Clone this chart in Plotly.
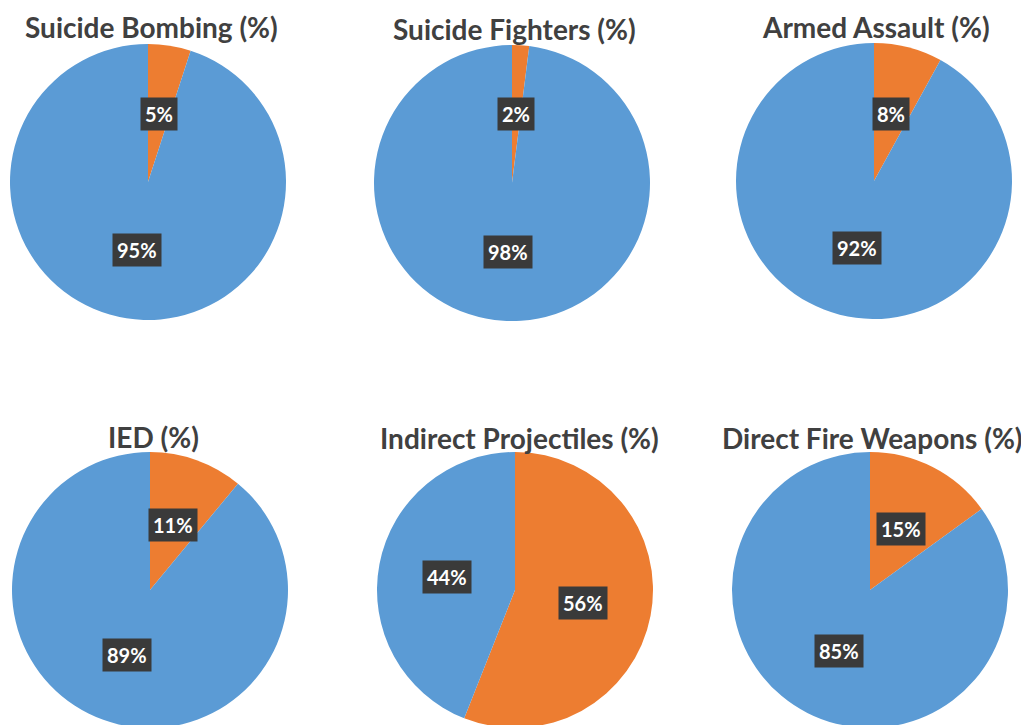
import math
import plotly.graph_objects as go

# ---- data ----
titles = ["Suicide Bombing (%)", "Suicide Fighters (%)", "Armed Assault (%)",
          "IED (%)", "Indirect Projectiles (%)", "Direct Fire Weapons (%)"]
orange_vals = [5, 2, 8, 11, 56, 15]
blue_vals = [95, 98, 92, 89, 44, 85]
slice_names = ["Share", "Remainder"]

# ---- layout / style ----
W, H = 1029, 725
OFF = 8  # page body margin offset
ORANGE = "#ED7D31"
BLUE = "#5B9BD5"
FONT = "Lato"
centers = [(148, 182), (512, 183), (874, 181), (150, 590), (515, 590), (870, 590)]
radius = 138
title_pos = [(151, 27), (514, 29), (876, 27), (153, 437), (519, 438), (872, 438)]
label_frac = 0.5

fig = go.Figure()
annotations = []

for i, title in enumerate(titles):
    cx, cy = centers[i][0] - OFF, centers[i][1] - OFF
    x0, x1 = cx - radius, cx + radius
    y0, y1 = max(cy - radius, 0), min(cy + radius, H)
    r_eff = min(x1 - x0, y1 - y0) / 2
    ecx, ecy = (x0 + x1) / 2, (y0 + y1) / 2
    vals = [orange_vals[i], blue_vals[i]]
    fig.add_trace(go.Pie(
        labels=slice_names, values=vals, sort=False, direction="clockwise",
        rotation=0, marker=dict(colors=[ORANGE, BLUE], line=dict(width=0)),
        textinfo="none", hoverinfo="label+value", showlegend=False,
        domain=dict(x=[x0 / W, x1 / W], y=[1 - y1 / H, 1 - y0 / H]),
    ))
    total = sum(vals)
    start = 0.0
    for v in vals:
        mid = (start + v / 2) / total * 2 * math.pi
        start += v
        px = ecx + label_frac * r_eff * math.sin(mid)
        py = ecy - label_frac * r_eff * math.cos(mid)
        annotations.append(dict(
            x=px / W, y=1 - py / H, xref="paper", yref="paper",
            text=f"<b>{v}%</b>", showarrow=False,
            font=dict(family=FONT, size=20, color="white"),
            bgcolor="#3A3A3A", borderpad=4, xanchor="center", yanchor="middle",
        ))
    tx, ty = title_pos[i][0] - OFF, title_pos[i][1] - OFF
    annotations.append(dict(
        x=tx / W, y=1 - ty / H, xref="paper", yref="paper",
        text=f"<b>{title}</b>", showarrow=False,
        font=dict(family=FONT, size=28, color="#404040"),
        xanchor="center", yanchor="middle",
    ))

fig.update_layout(
    width=W, height=H, margin=dict(l=0, r=0, t=0, b=0),
    paper_bgcolor="white", plot_bgcolor="white",
    annotations=annotations,
)
fig.write_html("out.html")
